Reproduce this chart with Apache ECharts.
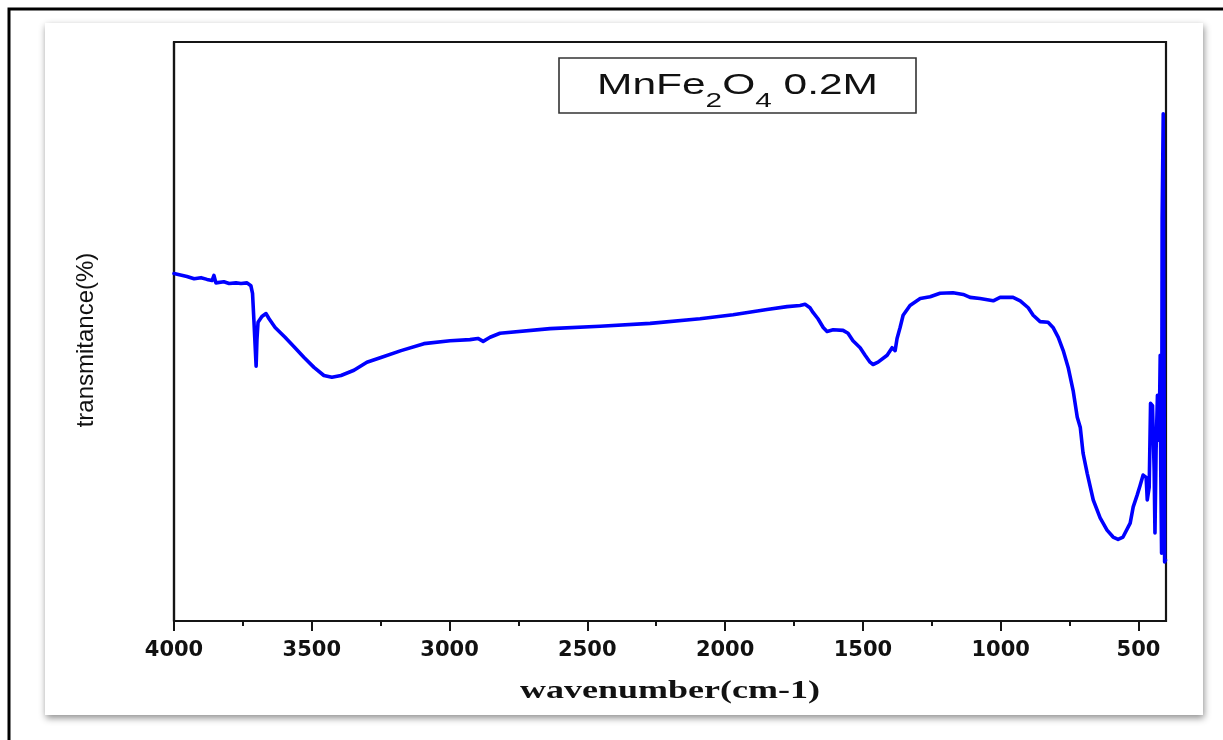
<!DOCTYPE html>
<html>
<head>
<meta charset="utf-8">
<script src="https://cdn.jsdelivr.net/npm/echarts@6/dist/echarts.min.js"></script>
<style>
  html, body { margin: 0; padding: 0; background: #fff; }
  #chart { width: 1223px; height: 740px; }
</style>
</head>
<body>
<div id="chart"></div>
<script>
// FTIR spectrum of MnFe2O4 (0.2M): wavenumber (cm-1) vs transmittance (arb. units)
const wavenumber = [
  4000, 3953, 3927, 3902, 3880, 3862, 3855, 3848, 3819, 3800, 3775, 3757, 3735,
  3721, 3715, 3710, 3702, 3699, 3695, 3681, 3666, 3655, 3633, 3597, 3561, 3528,
  3492, 3456, 3427, 3394, 3347, 3300, 3249, 3176, 3093, 2998, 2926, 2897, 2878,
  2853, 2817, 2635, 2454, 2272, 2091, 1971, 1848, 1775, 1728, 1710, 1692, 1681,
  1663, 1644, 1630, 1608, 1572, 1554, 1536, 1510, 1492, 1474, 1463, 1445, 1412,
  1394, 1383, 1376, 1365, 1354, 1329, 1292, 1256, 1220, 1173, 1136, 1111, 1075,
  1027, 1002, 955, 929, 900, 882, 857, 828, 810, 791, 773, 755, 737, 722, 711,
  701, 686, 664, 639, 614, 592, 574, 556, 530, 519, 505, 494, 483, 472, 468,
  461, 456, 449, 443, 440, 436, 431, 425, 421, 419, 416, 414, 410, 407, 405, 402
];
const transmittance = [
  60.0, 59.5, 59.1, 59.3, 59.0, 58.8, 59.7, 58.4, 58.6, 58.3, 58.4, 58.3, 58.4,
  57.9, 56.6, 51.9, 44.0, 48.6, 51.6, 52.6, 53.1, 52.2, 50.7, 49.0, 47.2, 45.5,
  43.8, 42.4, 42.1, 42.4, 43.3, 44.7, 45.5, 46.7, 47.9, 48.4, 48.6, 48.8, 48.3,
  49.0, 49.7, 50.5, 50.9, 51.4, 52.2, 52.9, 53.8, 54.3, 54.5, 54.7, 54.1, 53.3,
  52.2, 50.7, 50.0, 50.3, 50.2, 49.7, 48.4, 47.2, 45.9, 44.7, 44.3, 44.7, 45.9,
  47.2, 46.7, 48.8, 50.7, 52.8, 54.5, 55.7, 56.0, 56.6, 56.7, 56.4, 55.9, 55.7,
  55.3, 55.9, 55.9, 55.3, 54.1, 52.8, 51.7, 51.6, 50.7, 49.0, 46.7, 43.8, 39.8,
  35.2, 33.4, 29.0, 25.5, 20.9, 17.8, 15.7, 14.5, 14.1, 14.5, 16.9, 19.7, 21.7,
  23.4, 25.2, 24.8, 20.9, 23.1, 37.6, 37.2, 26.0, 15.2, 29.5, 39.0, 31.2, 45.9,
  26.0, 11.7, 69.5, 87.6, 87.6, 10.2, 10.5
];
const xTicks = [4000, 3500, 3000, 2500, 2000, 1500, 1000, 500];
const xMinorTicks = [3750, 3250, 2750, 2250, 1750, 1250, 750];
const sampleTitle = { base: 'MnFe', sub1: '2', mid: 'O', sub2: '4', tail: ' 0.2M' };
const xTitle = 'wavenumber(cm-1)';
const yTitle = 'transmitance(%)';

const points = wavenumber.map((w, i) => [w, transmittance[i]]);

// text measurement for placing the formula pieces
const ctx = document.createElement('canvas').getContext('2d');
function textWidth(str, font) { ctx.font = font; return ctx.measureText(str).width; }

const mainFont = '30px "Liberation Sans"';
const subFont = '21px "Liberation Sans"';
const pieces = [
  { t: sampleTitle.base, f: mainFont, y: 86 },
  { t: sampleTitle.sub1, f: subFont, y: 101 },
  { t: sampleTitle.mid, f: mainFont, y: 86 },
  { t: sampleTitle.sub2, f: subFont, y: 101 },
  { t: sampleTitle.tail, f: mainFont, y: 86 }
];
let cursor = 0;
const titleChildren = pieces.map(p => {
  const el = {
    type: 'text', x: cursor, y: p.y, z: 12,
    style: { text: p.t, font: p.f, fill: '#111', textAlign: 'left', textVerticalAlign: 'middle', verticalAlign: 'middle' }
  };
  cursor += textWidth(p.t, p.f);
  return el;
});
const titleScale = 281 / cursor;

const xTitleFont = 'bold 25px "Liberation Serif"';
const xTitleScale = 300 / textWidth(xTitle, xTitleFont);

const chart = echarts.init(document.getElementById('chart'), null, { renderer: 'canvas' });
chart.setOption({
  backgroundColor: '#ffffff',
  animation: false,
  grid: {
    left: 174, top: 42, right: 57, bottom: 119,
    show: true, borderColor: '#151515', borderWidth: 2.2, backgroundColor: 'transparent'
  },
  xAxis: [{
    type: 'value', min: 400, max: 4000, inverse: true, position: 'bottom',
    axisLine: { show: true, lineStyle: { color: '#151515', width: 2.2 } },
    axisTick: { show: true, customValues: xTicks, length: 10, inside: false, lineStyle: { color: '#151515', width: 2 } },
    axisLabel: {
      customValues: xTicks, margin: 19,
      formatter: v => String(v),
      fontFamily: 'DejaVu Sans', fontWeight: 'bold', fontSize: 21, color: '#111'
    },
    splitLine: { show: false }
  }, {
    type: 'value', min: 400, max: 4000, inverse: true, position: 'bottom',
    axisLine: { show: false },
    axisTick: { show: true, customValues: xMinorTicks, length: 5, lineStyle: { color: '#151515', width: 2 } },
    axisLabel: { show: false },
    splitLine: { show: false }
  }],
  yAxis: {
    type: 'value', min: 0, max: 100,
    axisLine: { show: true, lineStyle: { color: '#151515', width: 2.2 } },
    axisTick: { show: false },
    axisLabel: { show: false },
    splitLine: { show: false }
  },
  series: [{
    type: 'line',
    xAxisIndex: 0,
    data: points,
    symbol: 'none',
    smooth: false,
    lineStyle: { color: '#0000ff', width: 3.6, join: 'round', cap: 'round' },
    z: 3
  }],
  graphic: [
    // page frame
    { type: 'rect', z: -20, shape: { x: 9, y: 9, width: 1400, height: 1000 },
      style: { fill: '#ffffff', stroke: '#000', lineWidth: 3 } },
    // card with drop shadow
    { type: 'rect', z: -15, shape: { x: 45, y: 23, width: 1158, height: 692 },
      style: { fill: '#ffffff', shadowBlur: 7, shadowColor: 'rgba(0,0,0,0.45)', shadowOffsetX: 1, shadowOffsetY: 3 } },
    // sample label box
    { type: 'rect', z: 10, shape: { x: 559, y: 58, width: 357, height: 55 },
      style: { fill: '#fff', stroke: '#333', lineWidth: 1.6 } },
    { type: 'group', z: 12, x: 597, y: 0, scaleX: titleScale, children: titleChildren },
    // axis titles
    { type: 'text', z: 11, x: 670, y: 692, scaleX: xTitleScale,
      style: { text: xTitle, font: xTitleFont, fill: '#111', textAlign: 'center', textVerticalAlign: 'middle', verticalAlign: 'middle' } },
    { type: 'text', z: 11, x: 86, y: 340, rotation: Math.PI / 2,
      style: { text: yTitle, font: '24px "Liberation Sans"', fill: '#111', textAlign: 'center', textVerticalAlign: 'middle', verticalAlign: 'middle' } }
  ]
});
</script>
</body>
</html>
